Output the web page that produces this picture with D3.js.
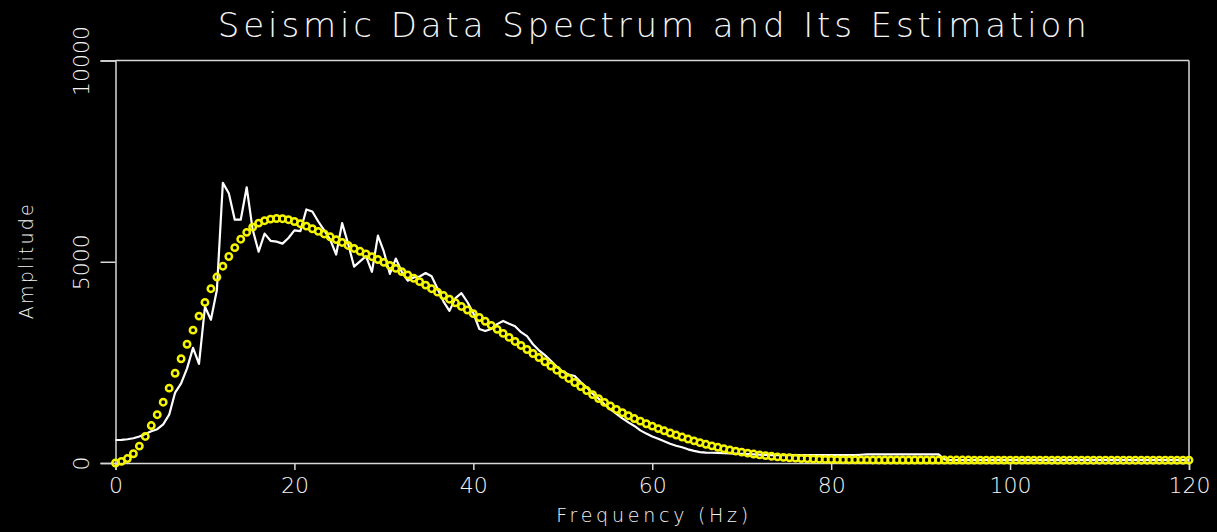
<!DOCTYPE html>
<html><head><meta charset="utf-8">
<script src="https://cdn.jsdelivr.net/npm/d3@7"></script>
<style>
html,body{margin:0;padding:0;background:#000;}
svg{display:block;}
text{font-family:"DejaVu Sans",sans-serif;font-weight:200;fill:#f4f4f4;}
</style></head>
<body>
<svg id="chart" width="1217" height="532"></svg>
<script>
// ---- data ----
const titleText = "Seismic Data Spectrum and Its Estimation";
const xLabel = "Frequency (Hz)";
const yLabel = "Amplitude";
const xTicks = [0, 20, 40, 60, 80, 100, 120];
const yTicks = [0, 5000, 10000];
const freqStepHz = 2 / 3; // frequency sample spacing of the spectrum
// measured spectrum (white line), one value per frequency sample
const spectrum = [
 572,575,590,614,660,720,790,840,960,1200,
 1750,1980,2350,2860,2460,3880,3560,4300,6960,6700,
 6045,6045,6850,5800,5250,5700,5520,5500,5450,5590,
 5780,5760,6300,6250,6000,5780,5550,5180,5960,5450,
 4880,5010,5140,4750,5650,5250,4700,5080,4750,4530,
 4610,4634,4720,4640,4330,4010,3780,4097,4220,4000,
 3724,3330,3280,3330,3450,3530,3460,3400,3250,3150,
 2950,2800,2680,2540,2390,2270,2200,2160,2010,1880,
 1720,1600,1460,1330,1220,1110,1010,920,810,730,
 660,600,540,480,430,390,340,300,270,260,
 255,250,245,238,232,226,220,213,206,200,
 198,198,198,198,198,198,198,198,198,198,
 198,198,198,198,198,205,212,216,216,216,
 216,216,216,216,216,216,216,216,216,90,
 70,70,70,70,70,70,70,70,70,70,
 70,70,70,70,70,70,70,70,70,70,
 70,70,70,70,70,70,70,70,70,70,
 70,70,70,70,70,70,70,70,70,70,
 70
];
// estimated spectrum (yellow circles)
const estimate = [
 0,40,110,230,420,660,930,1200,1510,1860,
 2230,2590,2950,3300,3650,3990,4330,4620,4890,5130,
 5350,5560,5730,5860,5960,6020,6060,6075,6070,6045,
 6000,5945,5885,5820,5755,5690,5620,5550,5480,5405,
 5330,5260,5195,5125,5055,4985,4910,4835,4755,4675,
 4590,4505,4420,4330,4245,4160,4070,3980,3890,3800,
 3710,3615,3520,3420,3320,3220,3120,3020,2920,2820,
 2720,2620,2515,2410,2305,2200,2100,2000,1900,1800,
 1700,1600,1505,1415,1330,1250,1175,1105,1040,975,
 915,855,800,745,695,645,595,550,505,465,
 425,390,355,325,295,270,245,222,202,184,
 167,152,139,130,120,112,105,99,94,90,
 87,84,82,80,79,78,77,76,76,75,
 75,75,75,74,74,74,74,74,73,73,
 73,73,73,73,72,72,72,72,72,72,
 71,71,71,71,71,71,71,70,70,70,
 70,70,70,70,70,70,70,70,69,69,
 69,69,69,69,69,69,69,69,69,69,
 69
];

// ---- layout ----
const svg = d3.select("#chart");
const W = 1217, H = 532;
svg.append("rect").attr("width", W).attr("height", H).attr("fill", "#000");
const L = 115.5, R = 1189, T = 60.5, B = 463;
const x = d3.scaleLinear().domain([0, 120]).range([L, R]);
const y = d3.scaleLinear().domain([0, 10000]).range([B, T]);
const axisColor = "#d8d8d8";

// frame
const g = svg.append("g");
g.append("line").attr("x1", L).attr("x2", R).attr("y1", T).attr("y2", T).attr("stroke", axisColor).attr("stroke-width", 1.5);
g.append("line").attr("x1", R).attr("x2", R).attr("y1", T).attr("y2", B).attr("stroke", axisColor).attr("stroke-width", 1.5);

// x axis
const xAxis = d3.axisBottom(x).tickValues(xTicks).tickSize(7).tickPadding(6).tickFormat(d3.format("d"));
const gx = svg.append("g").attr("transform", `translate(0,${B})`).call(xAxis);
gx.select(".domain").attr("stroke", axisColor).attr("stroke-width", 1.5);
gx.selectAll(".tick line").attr("stroke", axisColor).attr("stroke-width", 1.5);
gx.selectAll(".tick text").attr("font-size", 22).attr("fill", "#f4f4f4")
  .attr("font-family", "DejaVu Sans").attr("font-weight", 200).attr("dy", "0.78em");

// y axis
const yAxis = d3.axisLeft(y).tickValues(yTicks).tickSize(15).tickPadding(0).tickFormat(d3.format("d"));
const gy = svg.append("g").attr("transform", `translate(${L},0)`).call(yAxis);
gy.select(".domain").attr("stroke", axisColor).attr("stroke-width", 1.5);
gy.selectAll(".tick line").attr("stroke", axisColor).attr("stroke-width", 1.5);
gy.selectAll(".tick text").attr("font-size", 22).attr("fill", "#f4f4f4")
  .attr("font-family", "DejaVu Sans").attr("font-weight", 200)
  .attr("text-anchor", "middle").attr("x", 0).attr("dy", 0)
  .attr("transform", "translate(-27,0) rotate(-90)");

// spectrum line
const line = d3.line().x((d, i) => x(i * freqStepHz)).y(d => y(d));
svg.append("path").datum(spectrum).attr("d", line)
  .attr("fill", "none").attr("stroke", "#ffffff").attr("stroke-width", 2.2)
  .attr("stroke-linejoin", "round");

// estimate circles
svg.append("g").selectAll("circle").data(estimate).join("circle")
  .attr("cx", (d, i) => x(i * freqStepHz)).attr("cy", d => y(d))
  .attr("r", 3.2).attr("fill", "none").attr("stroke", "#f5f500").attr("stroke-width", 2.5);

// title and labels
svg.append("text").attr("x", (L + R) / 2).attr("y", 37).attr("text-anchor", "middle")
  .attr("font-size", 34).attr("textLength", 869).attr("lengthAdjust", "spacing").text(titleText);
svg.append("text").attr("x", (L + R) / 2).attr("y", 522).attr("text-anchor", "middle")
  .attr("font-size", 19).attr("textLength", 192).attr("lengthAdjust", "spacing").text(xLabel);
svg.append("text").attr("transform", `translate(33,${(T + B) / 2}) rotate(-90)`).attr("text-anchor", "middle")
  .attr("font-size", 19).attr("textLength", 115).attr("lengthAdjust", "spacing").text(yLabel);
</script>
</body></html>
